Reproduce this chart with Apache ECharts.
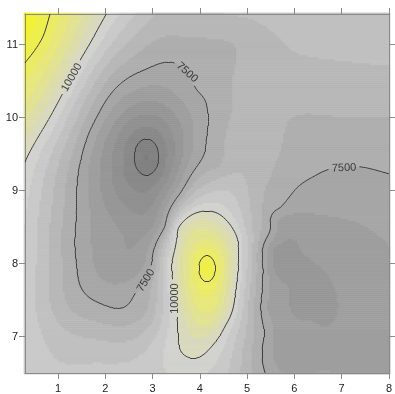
<!DOCTYPE html>
<html>
<head>
<meta charset="utf-8">
<script src="https://cdn.jsdelivr.net/npm/echarts@6.0.0/dist/echarts.min.js"></script>
<style>
  html, body { margin: 0; padding: 0; background: #fff; }
  #main { width: 395px; height: 394px; }
</style>
</head>
<body>
<div id="main"></div>
<script>
// axis ranges and tick labels
const xRange = [0.3, 8];
const yRange = [6.5, 11.42];
const xTicks = [1, 2, 3, 4, 5, 6, 7, 8];
const yTicks = [7, 8, 9, 10, 11];

// drawn contour lines, and fill bands every 500
const lineLevels = [5000, 7500, 10000, 12500];
const bandStart = 4000;
const bandStep = 500;
const bandColors = [
  '#7d7d7d', '#828282', '#898989', '#909090', '#979797', '#9e9e9e',
  '#a6a6a6', '#aeaeae', '#b7b7b7', '#c0c0c0', '#c9c9c9', '#d2d2cf',
  '#d9d9bf', '#dddda9', '#e2e293', '#e7e77c', '#ebeb65', '#eeee4e',
  '#f1f138', '#f3f325', '#f5f512'
];

// points read along each contour of the picture [x, y]
const trace12500 = [[0.83, 11.42], [0.68, 11.11], [0.47, 10.89], [0.3, 10.75],
  [3.98, 7.93], [4.32, 7.93], [4.15, 8.11], [4.15, 7.75],
  [4.03, 8.06], [4.27, 8.06], [4.03, 7.8], [4.27, 7.8]];
const trace11250 = [[1.42, 11.42], [1.2, 11.1], [0.85, 10.65], [0.55, 10.3], [0.3, 10.07],
  [3.7, 7.93], [4.57, 7.93], [4.15, 8.41], [4.15, 7.23],
  [3.83, 8.28], [4.45, 8.28], [3.83, 7.43], [4.45, 7.45]];
const trace10000 = [[2.02, 11.42], [1.66, 11.0], [1.16, 10.41], [0.75, 9.92], [0.3, 9.39],
  [3.4, 7.98], [3.44, 7.67], [3.52, 7.23], [3.58, 6.82], [3.96, 6.71], [4.27, 6.88],
  [4.54, 7.15], [4.75, 7.6], [4.81, 7.97], [4.79, 8.35], [4.52, 8.62], [4.17, 8.72],
  [3.81, 8.66], [3.54, 8.48]];
const trace8500 = [[4.54, 11.42], [5.94, 10.93], [8.0, 10.73]];
const trace8000 = [[1.1, 8.0], [1.15, 8.9], [1.3, 9.5], [1.75, 10.2], [2.15, 10.6],
  [2.8, 10.95], [3.7, 11.1], [4.69, 11.03], [4.72, 10.6], [4.69, 10.25], [4.42, 9.34],
  [3.9, 9.12], [1.25, 7.4], [1.87, 7.2], [2.4, 7.15], [2.9, 7.4],
  [8.0, 10.02], [6.9, 10.02], [5.94, 10.0], [5.8, 9.8], [5.59, 9.34], [5.35, 8.95]];
const trace7500 = [[1.35, 8.28], [1.39, 8.99], [1.66, 9.8], [1.87, 10.07], [2.35, 10.48],
  [2.85, 10.66], [3.39, 10.76], [3.75, 10.62], [3.92, 10.39], [4.1, 10.25], [4.17, 10.02],
  [4.13, 9.67], [4.0, 9.39], [3.86, 9.26], [3.58, 8.96], [3.26, 8.51], [2.98, 8.0],
  [2.85, 7.76], [2.64, 7.6], [2.35, 7.39], [1.87, 7.46], [1.45, 7.73],
  [8.0, 9.23], [7.29, 9.33], [7.05, 9.31], [6.73, 9.29], [6.4, 9.19], [6.04, 9.03],
  [5.69, 8.76], [5.48, 8.44], [5.31, 8.1], [5.31, 7.6], [5.36, 7.05], [5.38, 6.5]];
const trace7000 = [[5.45, 7.98], [5.69, 8.62], [6.4, 8.69], [7.29, 8.58], [8.0, 8.25],
  [5.45, 7.4], [5.55, 6.8]];
const trace6500 = [[5.56, 8.17], [6.15, 8.17], [6.77, 7.78], [6.92, 7.46], [6.71, 7.15],
  [6.36, 7.23], [5.88, 7.69], [5.56, 7.97], [2.4, 8.37]];
const trace5000 = [[2.62, 9.46], [3.12, 9.46], [2.87, 9.71], [2.87, 9.21],
  [2.69, 9.64], [3.05, 9.64], [2.69, 9.28], [3.05, 9.28]];

// single readings [x, y, value]
const spots = [
  [0.3, 11.42, 13600], [4.15, 7.93, 13100], [2.87, 9.46, 4450], [6.25, 7.7, 6350],
  [2.45, 8.6, 6300],
  [2.3, 11.42, 9500], [2.64, 11.42, 9000], [3.06, 11.42, 8500], [3.8, 11.42, 8250],
  [5.5, 11.42, 8650], [6.7, 11.42, 8750], [8.0, 11.42, 8750],
  [5.0, 10.5, 8250], [6.5, 10.45, 8300], [8.0, 10.4, 8300], [6.5, 9.65, 7750], [8.0, 9.7, 7800],
  [4.6, 9.1, 8800], [4.9, 9.5, 8400], [5.05, 8.5, 8700], [4.2, 9.0, 8900],
  [3.19, 8.0, 8800], [3.4, 8.5, 8750],
  [0.3, 9.0, 9700], [0.3, 8.0, 9400], [0.3, 7.0, 9400], [0.3, 6.5, 9300],
  [0.55, 8.0, 9000], [0.83, 8.0, 8500],
  [1.0, 6.5, 9100], [1.87, 6.5, 9150], [1.87, 6.96, 8500], [2.6, 6.5, 9200],
  [3.3, 6.5, 9500], [3.96, 6.5, 9600], [4.6, 6.5, 9000],
  [5.7, 6.6, 6950], [6.5, 6.6, 6950], [7.5, 6.6, 6950], [8.0, 6.5, 7000],
  [8.0, 7.5, 6950], [7.5, 7.9, 6850]
];

// contour labels [x, y, text, angle]
const contourLabels = [
  [1.29, 10.55, '10000', 60],
  [3.73, 10.62, '7500', -42],
  [2.86, 7.77, '7500', 59],
  [3.48, 7.52, '10000', 90],
  [7.05, 9.31, '7500', 2]
];

// ---- gather samples
const samples = [];
function addTrace(pts, v) { pts.forEach(p => samples.push([p[0], p[1], v])); }
addTrace(trace12500, 12500);
addTrace(trace11250, 11250);
addTrace(trace10000, 10000);
addTrace(trace8500, 8500);
addTrace(trace8000, 8000);
addTrace(trace7500, 7500);
addTrace(trace7000, 7000);
addTrace(trace6500, 6500);
addTrace(trace5000, 5000);
spots.forEach(s => samples.push(s));

// thin plate spline through the samples (y stretched to screen aspect)
const YS = 1.534;
function U(r) { return r > 0 ? r * r * Math.log(r) : 0; }
function solve(A, b) {
  const n = b.length;
  for (let c = 0; c < n; c++) {
    let p = c;
    for (let r = c + 1; r < n; r++) if (Math.abs(A[r][c]) > Math.abs(A[p][c])) p = r;
    let t = A[c]; A[c] = A[p]; A[p] = t;
    let tb = b[c]; b[c] = b[p]; b[p] = tb;
    for (let r = c + 1; r < n; r++) {
      const f = A[r][c] / A[c][c];
      if (f === 0) continue;
      for (let k = c; k < n; k++) A[r][k] -= f * A[c][k];
      b[r] -= f * b[c];
    }
  }
  const x = new Array(n).fill(0);
  for (let r = n - 1; r >= 0; r--) {
    let s = b[r];
    for (let k = r + 1; k < n; k++) s -= A[r][k] * x[k];
    x[r] = s / A[r][r];
  }
  return x;
}
const N = samples.length, M = N + 3;
const A = [], rhs = [];
for (let i = 0; i < M; i++) { A.push(new Float64Array(M)); rhs.push(0); }
for (let i = 0; i < N; i++) {
  const xi = samples[i][0], yi = samples[i][1] * YS;
  for (let j = 0; j < N; j++) {
    const dx = xi - samples[j][0], dy = yi - samples[j][1] * YS;
    A[i][j] = U(Math.sqrt(dx * dx + dy * dy));
  }
  A[i][i] += 0.002;
  A[i][N] = 1; A[i][N + 1] = xi; A[i][N + 2] = yi;
  A[N][i] = 1; A[N + 1][i] = xi; A[N + 2][i] = yi;
  rhs[i] = (samples[i][2] - 8000) / 1000;
}
const w = solve(A, rhs);
function field(x, y) {
  y *= YS;
  let s = w[N] + w[N + 1] * x + w[N + 2] * y;
  for (let j = 0; j < N; j++) {
    const dx = x - samples[j][0], dy = y - samples[j][1] * YS;
    s += w[j] * U(Math.sqrt(dx * dx + dy * dy));
  }
  return s * 1000 + 8000;
}

// evaluate on a fine grid
const nx = 186, ny = 181;
const gdx = (xRange[1] - xRange[0]) / (nx - 1), gdy = (yRange[1] - yRange[0]) / (ny - 1);
const xs = [], ys = [], grid = [];
for (let i = 0; i < nx; i++) xs.push(xRange[0] + i * gdx);
for (let j = 0; j < ny; j++) ys.push(yRange[0] + j * gdy);
for (let j = 0; j < ny; j++) {
  const row = [];
  for (let i = 0; i < nx; i++) row.push(field(xs[i], ys[j]));
  grid.push(row);
}

// band rectangles, merged along rows
function bandOf(v) {
  return Math.max(0, Math.min(bandColors.length - 1, Math.floor((v - bandStart) / bandStep)));
}
const cells = [];
for (let j = 0; j < ny; j++) {
  let i0 = 0, k0 = bandOf(grid[j][0]);
  for (let i = 1; i <= nx; i++) {
    const k = i < nx ? bandOf(grid[j][i]) : -1;
    if (k !== k0) {
      cells.push([xs[i0] - gdx / 2, xs[i - 1] + gdx / 2, ys[j] - gdy / 2, ys[j] + gdy / 2, k0]);
      i0 = i; k0 = k;
    }
  }
}

// contour line segments (marching squares)
function segmentsFor(level) {
  const segs = [];
  for (let j = 0; j < ny - 1; j++) {
    for (let i = 0; i < nx - 1; i++) {
      const c = [
        [xs[i], ys[j], grid[j][i]], [xs[i + 1], ys[j], grid[j][i + 1]],
        [xs[i + 1], ys[j + 1], grid[j + 1][i + 1]], [xs[i], ys[j + 1], grid[j + 1][i]]
      ];
      const pts = [];
      for (let e = 0; e < 4; e++) {
        const p = c[e], q = c[(e + 1) % 4];
        if ((p[2] < level) !== (q[2] < level)) {
          const t = (level - p[2]) / (q[2] - p[2]);
          pts.push([p[0] + t * (q[0] - p[0]), p[1] + t * (q[1] - p[1])]);
        }
      }
      if (pts.length === 2) segs.push(pts);
      else if (pts.length === 4) { segs.push([pts[0], pts[1]]); segs.push([pts[2], pts[3]]); }
    }
  }
  return segs;
}

const chart = echarts.init(document.getElementById('main'));
const labelFont = 'Liberation Sans Narrow, Liberation Sans, Arial, sans-serif';
const axisCommon = {
  type: 'value',
  splitLine: { show: false },
  axisLine: { show: true, onZero: false, lineStyle: { color: '#8a8a8a', width: 1 } },
  axisTick: { show: true, inside: false, length: 6, lineStyle: { color: '#8a8a8a' } }
};
chart.setOption({
  animation: false,
  backgroundColor: '#fff',
  grid: { left: 25, right: 2, top: 14, bottom: 19 },
  xAxis: [
    Object.assign({}, axisCommon, {
      min: xRange[0], max: xRange[1], position: 'bottom',
      axisTick: Object.assign({}, axisCommon.axisTick, { customValues: xTicks }),
      axisLabel: { customValues: xTicks, margin: 10, color: '#222', fontSize: 11, fontFamily: labelFont }
    }),
    Object.assign({}, axisCommon, {
      min: xRange[0], max: xRange[1], position: 'top',
      axisTick: Object.assign({}, axisCommon.axisTick, { customValues: xTicks }),
      axisLabel: { show: false }
    })
  ],
  yAxis: [
    Object.assign({}, axisCommon, {
      min: yRange[0], max: yRange[1], position: 'left',
      axisTick: Object.assign({}, axisCommon.axisTick, { customValues: yTicks }),
      axisLabel: { customValues: yTicks, margin: 7, color: '#222', fontSize: 11, fontFamily: labelFont }
    }),
    Object.assign({}, axisCommon, {
      min: yRange[0], max: yRange[1], position: 'right',
      axisTick: Object.assign({}, axisCommon.axisTick, { customValues: yTicks }),
      axisLabel: { show: false }
    })
  ]
});

// leave gaps in the lines where the labels sit
const gaps = contourLabels.map(l => {
  const p = chart.convertToPixel({ xAxisIndex: 0, yAxisIndex: 0 }, [l[0], l[1]]);
  const a = l[3] * Math.PI / 180;
  return { p: p, u: [Math.cos(a), -Math.sin(a)], n: [Math.sin(a), Math.cos(a)], half: l[2].length * 3.1 + 3 };
});
function inGap(seg) {
  const m = chart.convertToPixel({ xAxisIndex: 0, yAxisIndex: 0 },
    [(seg[0][0] + seg[1][0]) / 2, (seg[0][1] + seg[1][1]) / 2]);
  return gaps.some(g => {
    const dx = m[0] - g.p[0], dy = m[1] - g.p[1];
    return Math.abs(dx * g.u[0] + dy * g.u[1]) < g.half && Math.abs(dx * g.n[0] + dy * g.n[1]) < 6;
  });
}
const lineData = [];
lineLevels.forEach(lv => {
  segmentsFor(lv).forEach(s => { if (!inGap(s)) lineData.push({ coords: s }); });
});

chart.setOption({
  series: [
    {
      type: 'custom',
      clip: true,
      silent: true,
      data: cells,
      encode: { x: [0, 1], y: [2, 3] },
      renderItem: function (params, api) {
        const p0 = api.coord([api.value(0), api.value(3)]);
        const p1 = api.coord([api.value(1), api.value(2)]);
        const col = bandColors[api.value(4)];
        return {
          type: 'rect',
          shape: { x: p0[0], y: p0[1], width: p1[0] - p0[0], height: p1[1] - p0[1] },
          style: { fill: col, stroke: col, lineWidth: 0.8 }
        };
      }
    },
    {
      type: 'lines',
      coordinateSystem: 'cartesian2d',
      silent: true,
      polyline: false,
      lineStyle: { color: '#3a3a3a', width: 1, opacity: 1 },
      data: lineData
    },
    {
      type: 'scatter',
      silent: true,
      symbolSize: 0,
      data: contourLabels.map(l => ({
        value: [l[0], l[1]],
        label: {
          show: true, position: 'inside', formatter: l[2], rotate: l[3],
          color: '#1a1a1a', fontSize: 11, fontFamily: labelFont
        }
      }))
    }
  ]
});
</script>
</body>
</html>
